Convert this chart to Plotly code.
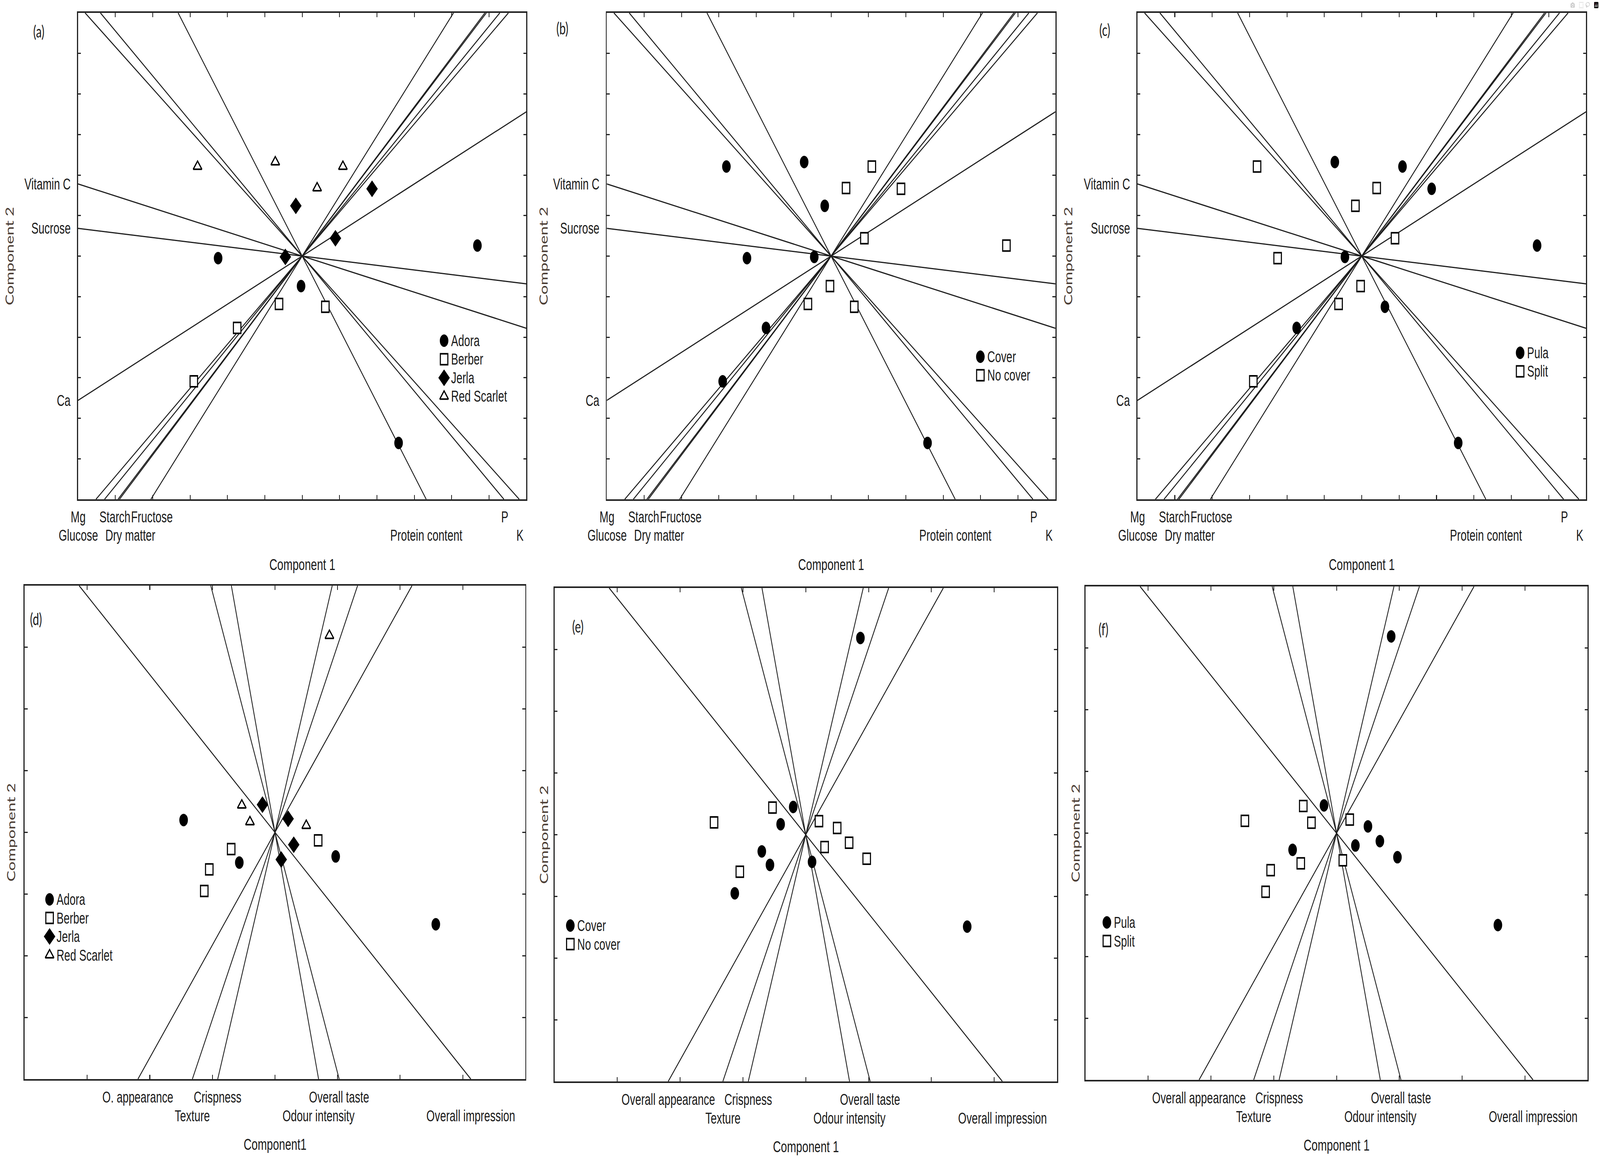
import plotly.graph_objects as go

W, H = 5970, 2987

# ---------------- DATA ----------------
# Chemical composition (panels a-c): loadings given as the point where each
# variable's line meets the plot frame (line passes through the origin)
chem_vars = ["Vitamin C", "Sucrose", "Ca", "Mg", "Glucose", "Starch",
             "Dry matter", "Fructose", "Protein content", "P", "K"]
chem_load_x = [-6.0, -6.0, -6.0, -5.52, -5.29, -4.93, -4.89, -4.05, 3.32, 5.40, 5.81]
chem_load_y = [1.78, 0.685, -3.56, -6.0, -6.0, -6.0, -6.0, -6.0, -6.0, -6.0, -6.0]

# labels written under the bottom axis (position along axis, text row)
chem_bottom_labels = ["Mg", "Glucose", "Starch", "Dry matter", "Fructose",
                      "Protein content", "P", "K"]
chem_bottom_label_x = [-5.99, -5.99, -5.01, -4.60, -4.02, 3.32, 5.42, 5.83]
chem_bottom_label_row = [1, 2, 1, 2, 1, 2, 1, 2]
chem_left_labels = ["Vitamin C", "Sucrose", "Ca"]

# Chemical scores (16 samples)
chem_score_x = [-2.80, -0.72, 1.09, 0.40, -0.17, 1.87, 0.89, -0.45,
                -2.25, -0.03, 4.69, 2.58, -0.62, 0.62, -1.74, -2.90]
chem_score_y = [2.21, 2.32, 2.21, 1.68, 1.24, 1.66, 0.44, -0.02,
                -0.05, -0.74, 0.26, -4.61, -1.18, -1.25, -1.77, -3.09]
chem_variety = ["Red Scarlet"] * 4 + ["Jerla"] * 4 + ["Adora"] * 4 + ["Berber"] * 4
chem_cover = ["Cover", "Cover", "No cover", "No cover", "Cover", "No cover", "No cover", "Cover",
              "Cover", "No cover", "No cover", "Cover", "No cover", "No cover", "Cover", "Cover"]
chem_location = ["Split", "Pula", "Pula", "Split", "Split", "Pula", "Split", "Pula",
                 "Split", "Split", "Pula", "Pula", "Split", "Pula", "Pula", "Split"]

# Sensory (panels d-f)
sens_vars = ["Overall appearance", "Texture", "Crispness", "Odour intensity",
             "Overall taste", "Overall impression"]
sens_vars_short = ["O. appearance", "Texture", "Crispness", "Odour intensity",
                   "Overall taste", "Overall impression"]
sens_load_x = [-2.19, -1.32, -0.915, 0.697, 1.026, 3.13]
sens_load_y = [-4.0, -4.0, -4.0, -4.0, -4.0, -4.0]
sens_label_row = [1, 2, 1, 2, 1, 2]

sens_score_x = [-1.46, -0.57, 0.97, 2.57, -0.70, -1.05, -1.13, 0.69,
                -0.20, 0.21, 0.30, 0.10, -0.53, -0.40, 0.50, 0.87]
sens_score_y = [0.20, -0.49, -0.39, -1.49, -0.27, -0.60, -0.95, -0.13,
                0.45, 0.22, -0.20, -0.44, 0.44, 0.17, 0.11, 3.19]
sens_variety = ["Adora"] * 4 + ["Berber"] * 4 + ["Jerla"] * 4 + ["Red Scarlet"] * 4
sens_cover = ["No cover", "Cover", "No cover", "Cover", "Cover", "No cover", "Cover", "No cover",
              "Cover", "No cover", "No cover", "Cover", "No cover", "Cover", "No cover", "Cover"]
sens_location = ["Split", "Split", "Pula", "Pula", "Pula", "Split", "Split", "Pula",
                 "Pula", "Split", "Pula", "Split", "Split", "Split", "Pula", "Pula"]

varieties = ["Adora", "Berber", "Jerla", "Red Scarlet"]
covers = ["Cover", "No cover"]
locations = ["Pula", "Split"]

# ---------------- STYLE / LAYOUT ----------------
F_ARIAL = "Liberation Sans, Arial, sans-serif"
F_CAL = "Lato, Carlito, Calibri, sans-serif"
TXT = "#1a1a1a"
TITLE2_COL = "#4a3c33"

SYM = {
    "Adora": dict(symbol="circle", size=32, color="black", line=dict(width=0)),
    "Berber": dict(symbol="square", size=28, color="white", line=dict(width=4, color="black")),
    "Jerla": dict(symbol="diamond", size=33, color="black", line=dict(width=0)),
    "Red Scarlet": dict(symbol="triangle-up", size=28, color="white", line=dict(width=4, color="black")),
}
SYM["Cover"] = SYM["Adora"]
SYM["Pula"] = SYM["Adora"]
SYM["No cover"] = SYM["Berber"]
SYM["Split"] = SYM["Berber"]

# frame of each panel in pixels: left, right, top, bottom
panels = [
    dict(key="a", frame=(291, 1964, 33, 1278), lim=6, kind="chem", groups=chem_variety, levels=varieties,
         letter=(145, 80), ytitle_x=36, xtitle="Component 1", leg=(1657, 872)),
    dict(key="b", frame=(2264, 3938, 33, 1278), lim=6, kind="chem", groups=chem_cover, levels=covers,
         letter=(2098, 72), ytitle_x=2028, xtitle="Component 1", leg=(3658, 913)),
    dict(key="c", frame=(4244, 5918, 33, 1278), lim=6, kind="chem", groups=chem_location, levels=locations,
         letter=(4122, 76), ytitle_x=3985, xtitle="Component 1", leg=(5672, 903)),
    dict(key="d", frame=(92, 1960, 1499, 2762), lim=4, kind="sens", groups=sens_variety, levels=varieties,
         letter=(134, 1584), ytitle_x=41, xtitle="Component1", leg=(185, 2302)),
    dict(key="e", frame=(2069, 3944, 1505, 2768), lim=4, kind="sens", groups=sens_cover, levels=covers,
         letter=(2156, 1603), ytitle_x=2028, xtitle="Component 1", leg=(2128, 2369)),
    dict(key="f", frame=(4050, 5924, 1501, 2764), lim=4, kind="sens", groups=sens_location, levels=locations,
         letter=(4117, 1610), ytitle_x=4012, xtitle="Component 1", leg=(4130, 2361)),
]
LEG_STEP = 47.5  # px between legend rows


def px2paper_x(px):
    return px / W


def px2paper_y(py):
    return 1 - py / H


fig = go.Figure()
annotations = []
layout_axes = {}

for i, p in enumerate(panels, start=1):
    xa = "x" if i == 1 else f"x{i}"
    ya = "y" if i == 1 else f"y{i}"
    l, r, t, b = p["frame"]
    lim = p["lim"]
    axis_common = dict(range=[-lim, lim], showgrid=False, zeroline=False, showticklabels=False,
                       ticks="inside", ticklen=11, tickwidth=3, tickcolor="#222",
                       dtick=1, tick0=0, showline=True, linewidth=4, linecolor="#222",
                       mirror="ticks", fixedrange=True)
    layout_axes["xaxis" if i == 1 else f"xaxis{i}"] = dict(
        domain=[px2paper_x(l), px2paper_x(r)], anchor=ya, **axis_common)
    layout_axes["yaxis" if i == 1 else f"yaxis{i}"] = dict(
        domain=[px2paper_y(b), px2paper_y(t)], anchor=xa, **axis_common)

    # ---- loading lines (through origin, frame to frame) ----
    if p["kind"] == "chem":
        lx, ly = chem_load_x, chem_load_y
        sx, sy = chem_score_x, chem_score_y
    else:
        lx, ly = sens_load_x, sens_load_y
        sx, sy = sens_score_x, sens_score_y
    xs, ys = [], []
    for vx, vy in zip(lx, ly):
        xs += [vx, -vx, None]
        ys += [vy, -vy, None]
    fig.add_trace(go.Scatter(x=xs, y=ys, mode="lines", xaxis=xa, yaxis=ya,
                             line=dict(color="#1e1e1e", width=3), hoverinfo="skip",
                             showlegend=False))

    # ---- scores ----
    for lev in p["levels"]:
        idx = [k for k, g in enumerate(p["groups"]) if g == lev]
        fig.add_trace(go.Scatter(x=[sx[k] for k in idx], y=[sy[k] for k in idx], mode="markers",
                                 xaxis=xa, yaxis=ya, marker=SYM[lev], name=lev, showlegend=False))

    # ---- variable labels ----
    ppu_x = (r - l) / (2 * lim)
    ppu_y = (b - t) / (2 * lim)
    if p["kind"] == "chem":
        for name, x0, row in zip(chem_bottom_labels, chem_bottom_label_x, chem_bottom_label_row):
            annotations.append(dict(text=name, x=x0, y=-lim, xref=xa, yref=ya, xanchor="center",
                                    yanchor="middle", yshift=-45 if row == 1 else -92, showarrow=False,
                                    font=dict(family=F_ARIAL, size=40, color=TXT)))
        for name in chem_left_labels:
            k = chem_vars.index(name)
            annotations.append(dict(text=name, x=-lim, y=chem_load_y[k], xref=xa, yref=ya,
                                    xanchor="right", yanchor="middle", xshift=-25, showarrow=False,
                                    font=dict(family=F_ARIAL, size=40, color=TXT)))
    else:
        names = sens_vars_short if p["key"] == "d" else sens_vars
        for name, x0, row in zip(names, sens_load_x, sens_label_row):
            annotations.append(dict(text=name, x=x0, y=-lim, xref=xa, yref=ya, xanchor="center",
                                    yanchor="middle", yshift=-46 if row == 1 else -94, showarrow=False,
                                    font=dict(family=F_ARIAL, size=40, color=TXT)))

    # ---- axis titles ----
    annotations.append(dict(text=p["xtitle"], x=px2paper_x((l + r) / 2), y=px2paper_y(b + 167),
                            xref="paper", yref="paper", xanchor="center", yanchor="middle",
                            showarrow=False, font=dict(family=F_ARIAL, size=41, color=TXT)))
    annotations.append(dict(text="Component 2", x=px2paper_x(p["ytitle_x"]), y=px2paper_y((t + b) / 2),
                            xref="paper", yref="paper", xanchor="center", yanchor="middle",
                            textangle=-90, showarrow=False,
                            font=dict(family=F_CAL, size=42, color=TITLE2_COL)))
    # ---- panel letter ----
    annotations.append(dict(text=f"({p['key']})", x=px2paper_x(p["letter"][0]), y=px2paper_y(p["letter"][1]),
                            xref="paper", yref="paper", xanchor="center", yanchor="middle",
                            showarrow=False, font=dict(family=F_CAL, size=42, color=TXT)))

    # ---- legend (keys drawn inside the panel) ----
    cx = (l + r) / 2
    cy = (t + b) / 2
    lgx, lgy = p["leg"]
    for j, lev in enumerate(p["levels"]):
        mx = (lgx - cx) / ppu_x
        my = (cy - (lgy + j * LEG_STEP)) / ppu_y
        fig.add_trace(go.Scatter(x=[mx], y=[my], mode="markers", xaxis=xa, yaxis=ya,
                                 marker=SYM[lev], hoverinfo="skip", showlegend=False))
        annotations.append(dict(text=lev, x=mx, y=my, xref=xa, yref=ya, xanchor="left",
                                yanchor="middle", xshift=24, showarrow=False,
                                font=dict(family=F_ARIAL, size=40, color=TXT)))

fig.update_layout(width=W, height=H, margin=dict(l=0, r=0, t=0, b=0),
                  plot_bgcolor="white", paper_bgcolor="white", showlegend=False,
                  annotations=annotations, **layout_axes)

# map the 5970x2987 design onto whatever viewport the browser really provides
FIT_JS = """
(function(){
  var gd = document.getElementById('{plot_id}');
  var FW = %d, FH = %d;
  function fit(){
    var vw = window.innerWidth, vh = window.innerHeight;
    var sx = vw / FW, sy = vh / FH;
    document.documentElement.style.overflow = 'hidden';
    document.body.style.margin = '0';
    document.body.style.overflow = 'hidden';
    var wrap = gd.parentElement;
    wrap.style.width = vw + 'px';
    wrap.style.height = vh + 'px';
    wrap.style.overflow = 'hidden';
    gd.style.transformOrigin = '0 0';
    gd.style.transform = 'scale(' + sx + ',' + sy + ')';
  }
  fit();
  window.addEventListener('resize', fit);
})();
""" % (W, H)

fig.write_html("out.html", post_script=FIT_JS)
